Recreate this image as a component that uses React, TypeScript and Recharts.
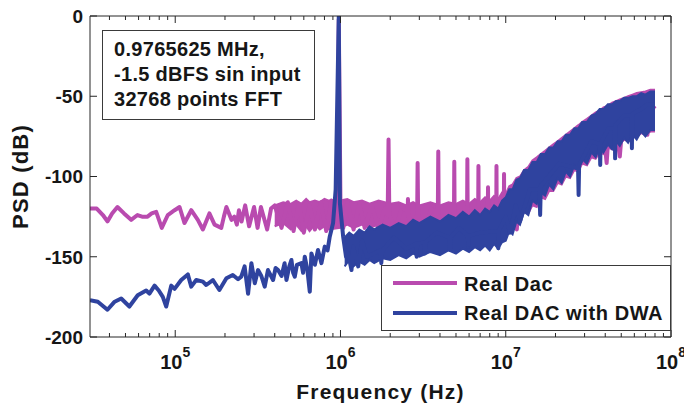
import React from "react";
import { ComposedChart, Line, Area, XAxis, YAxis, Label } from "recharts";

const COLORS = {
  dac: "#B94BAF",
  dwa: "#2F439F",
  axis: "#262626",
  text: "#161616",
};
const FONT = '"Liberation Sans", Arial, Helvetica, sans-serif';

// log axis ticks (majors get a 10^n label, the rest are minor marks)
const FREQ_TICKS = [
  4e4, 5e4, 6e4, 7e4, 8e4, 9e4,
  1e5, 2e5, 3e5, 4e5, 5e5, 6e5, 7e5, 8e5, 9e5,
  1e6, 2e6, 3e6, 4e6, 5e6, 6e6, 7e6, 8e6, 9e6,
  1e7, 2e7, 3e7, 4e7, 5e7, 6e7, 7e7, 8e7, 9e7,
  1e8,
];
const PSD_TICKS = [-200, -150, -100, -50, 0];

const INFO_LINES = ["0.9765625 MHz,", "-1.5 dBFS sin input", "32768 points FFT"];
const SERIES_NAMES = ["Real Dac", "Real DAC with DWA"];

// Real Dac: [freq Hz, PSD dB]
const realDac: [number, number][] = [
  [30500, -120], [33500, -120], [36500, -124], [38900, -128], [41500, -123], [44700, -119],
  [49000, -123], [54100, -127], [59100, -124], [63000, -125], [68000, -125], [72000, -123],
  [76700, -122], [82900, -132], [90200, -124], [99100, -121], [106200, -119], [113800, -129],
  [125000, -121], [137000, -127], [147000, -133], [161000, -123], [173000, -130], [190000, -132],
  [197000, -125], [204000, -119], [219000, -127], [228000, -125], [236000, -130], [243000, -121],
  [252000, -128], [265000, -118], [280000, -131], [300000, -119], [315000, -132], [330000, -119],
  [360000, -133], [380000, -120], [400000, -118], [440000, -132], [480000, -116], [520000, -134],
  [560000, -117], [600000, -135], [650000, -118], [700000, -133], [760000, -116], [820000, -134],
  [880000, -115], [930000, -128], [955000, -118], [976562, -2], [1000000, -118], [1040000, -132],
  [1100000, -116], [1200000, -133], [1300000, -117], [1400000, -132], [1550000, -118], [1700000, -133],
  [1850000, -120], [1930000, -124], [1953125, -77], [1975000, -124], [2150000, -133], [2350000, -119],
  [2550000, -122], [2560000, -114], [2580000, -125], [2750000, -132], [2910000, -124], [2929688, -91.6],
  [2950000, -124], [3200000, -133], [3550000, -120], [3880000, -125], [3906250, -84.5], [3930000, -125],
  [4300000, -132], [4860000, -124], [4882813, -90.8], [4905000, -124], [5300000, -131], [5835000, -123],
  [5859375, -89.3], [5885000, -123], [6300000, -130], [6810000, -123], [6835938, -93.5], [6860000, -123],
  [7300000, -129], [7790000, -122], [7812500, -106.7], [7835000, -122], [8300000, -127], [8765000, -121],
  [8789063, -93.5], [8815000, -121], [9300000, -125], [9740000, -119], [9765625, -98.4], [9790000, -119],
  [10500000, -118], [11400000, -124], [11670000, -133], [11900000, -118], [13500000, -108], [15500000, -103],
  [18000000, -92], [21000000, -88], [25000000, -84], [30000000, -77], [35000000, -70], [39000000, -72],
  [40800000, -91.6], [42000000, -72], [46000000, -66], [49000000, -87.6], [51000000, -66], [58000000, -60],
  [66000000, -58], [72000000, -74], [74000000, -60], [80000000, -56],
];

// Real Dac dense noise band: [freq Hz, low dB, high dB]
const realDacBand: [number, number, number][] = [
  [400000, -131, -118], [450000, -129, -116], [500000, -133, -117], [540000, -130, -115],
  [580000, -134, -117], [620000, -131, -114], [650000, -134, -116], [700000, -130, -115],
  [750000, -133, -116], [800000, -131, -114], [850000, -133, -115], [1000000, -132, -115],
  [1100000, -130, -114], [1200000, -132, -116], [1350000, -130, -115], [1500000, -132, -117],
  [1700000, -130, -115], [2000000, -132, -117], [2250000, -130, -116], [2500000, -132, -118],
  [2750000, -130, -116], [3000000, -132, -118], [3500000, -130, -116], [4000000, -131, -118],
  [4500000, -129, -116], [5000000, -131, -117], [5500000, -129, -115], [6000000, -130, -117],
  [6500000, -128, -114], [7000000, -129, -116], [7500000, -127, -113], [8000000, -128, -115],
  [8500000, -126, -112], [9000000, -127, -114], [9500000, -126, -110], [10000000, -127, -111],
  [10500000, -126, -106], [11000000, -128, -105], [11600000, -125, -101], [12200000, -127, -100],
  [12900000, -122, -96], [13700000, -123, -94], [14500000, -118, -90], [15400000, -119, -88],
  [16300000, -113, -86], [17300000, -114, -84], [18300000, -109, -82], [19400000, -109, -80],
  [20600000, -104, -78], [21800000, -105, -76], [23100000, -100, -74], [24500000, -101, -72],
  [26000000, -96, -70], [27500000, -97, -68], [29000000, -92, -66], [31000000, -93, -64],
  [33000000, -88, -62], [35000000, -89, -60], [37000000, -85, -59], [39000000, -86, -57],
  [41500000, -82, -56], [44000000, -83, -54], [46500000, -79, -53], [49000000, -80, -52],
  [52000000, -77, -51], [55000000, -78, -50], [58500000, -74, -49], [62000000, -75, -48],
  [66000000, -73, -47.5], [70000000, -74, -47], [75000000, -72, -46], [80000000, -72, -46],
];

// Real DAC with DWA: [freq Hz, PSD dB]
const realDacDwa: [number, number][] = [
  [30500, -177], [34000, -178], [38900, -183], [43000, -178], [47100, -176], [52800, -181],
  [59300, -174], [66700, -171], [69800, -173], [75000, -168], [79500, -171], [84100, -175],
  [88200, -181], [94600, -168], [99100, -170], [108700, -164.5], [119200, -161], [125000, -168.6],
  [134000, -164.5], [147000, -165.5], [154000, -167.6], [169000, -164.5], [185000, -170.7], [204000, -163.4],
  [223000, -161.4], [240000, -164], [251000, -162.4], [263000, -156], [276000, -173], [289000, -154],
  [303000, -166.5], [317000, -158.3], [332000, -162], [348000, -168.6], [364000, -158.3], [391000, -164.5],
  [405000, -157], [419000, -158.3], [440000, -162], [459000, -154], [471000, -164.5], [490000, -156],
  [505000, -152], [517000, -160], [529000, -162.4], [545000, -155], [580000, -154], [594000, -160],
  [608000, -150], [630000, -158], [652000, -171.8], [667000, -147.9], [700000, -155], [731000, -145.8],
  [767000, -154], [803000, -143.7], [835000, -146], [861000, -137.5], [902000, -129], [935000, -108],
  [976562, 0], [992000, -116.7], [1038000, -137.5], [1080000, -150], [1112000, -148], [1166000, -158.3],
  [1194000, -143.7], [1250000, -152], [1280000, -156], [1350000, -140], [1450000, -150], [1745000, -146],
  [1766000, -154], [1790000, -146], [2100000, -138], [2500000, -145], [2870000, -142], [2890000, -150],
  [2910000, -142], [3220000, -141], [3240000, -148], [3260000, -141], [3800000, -135], [4570000, -138],
  [4600000, -145.8], [4630000, -138], [5200000, -132], [5900000, -137], [5930000, -143.7], [5960000, -137],
  [7000000, -135], [8980000, -134], [9020000, -144.7], [9060000, -134], [10000000, -125], [10630000, -135],
  [11500000, -118], [12200000, -128], [14000000, -108], [16000000, -108], [16150000, -124], [16300000, -106],
  [21000000, -92], [27400000, -95], [27600000, -111.5], [27800000, -93], [33000000, -78], [37100000, -80],
  [37300000, -92.8], [37500000, -79], [42000000, -70], [45700000, -70], [45900000, -88.7], [46100000, -68],
  [52000000, -62], [57700000, -62], [58000000, -82.4], [58300000, -61], [66000000, -58], [72000000, -55],
  [80000000, -55],
];

const realDacDwaBand: [number, number, number][] = [
  [1060000, -156, -138], [1130000, -152, -135], [1200000, -156, -137], [1300000, -153, -133],
  [1400000, -155, -135], [1500000, -152, -131], [1600000, -154, -133], [1800000, -151, -130],
  [2000000, -152, -132], [2250000, -149, -129], [2500000, -151, -131], [2750000, -148, -127],
  [3000000, -150, -129], [3500000, -147, -125], [4000000, -149, -128], [4500000, -146, -124],
  [5000000, -148, -126], [5500000, -145, -122], [6000000, -147, -125], [6500000, -144, -121],
  [7000000, -146, -124], [7500000, -143, -120], [8000000, -146, -122], [8500000, -142, -118],
  [9000000, -145, -120], [9500000, -141, -115], [10000000, -140, -113], [10500000, -134, -108],
  [11000000, -136, -108], [11600000, -128, -102], [12200000, -130, -101], [12900000, -122, -96],
  [13700000, -124, -96], [14500000, -115, -91], [15400000, -117, -91], [16300000, -110, -86],
  [17300000, -112, -86], [18300000, -105, -82], [19400000, -108, -82], [20600000, -101, -78],
  [21800000, -104, -78], [23100000, -97, -74], [24500000, -100, -74], [26000000, -93, -70],
  [27500000, -96, -70], [29000000, -89, -66], [31000000, -92, -66], [33000000, -85, -62],
  [35000000, -88, -61], [37000000, -82, -58], [39000000, -85, -58], [41500000, -80, -55],
  [44000000, -83, -55], [46500000, -78, -53], [49000000, -81, -53], [52000000, -76, -51],
  [55000000, -79, -51], [58500000, -74, -50], [62000000, -77, -50], [66000000, -72, -48],
  [70000000, -75, -49], [75000000, -71, -47], [80000000, -71, -47],
];

const toLine = (pts: [number, number][]) => pts.map(([f, psd]) => ({ f, psd }));
const toBand = (pts: [number, number, number][]) => pts.map(([f, lo, hi]) => ({ f, range: [lo, hi] }));

function isDecade(v: number) {
  const l = Math.log10(v);
  return Math.abs(l - Math.round(l)) < 1e-6;
}

function FreqTick(props: any) {
  const { x, y, payload, top } = props;
  const v = payload.value;
  const major = isDecade(v);
  const len = major ? 7 : 4;
  const dir = top ? 1 : -1;
  return (
    <g>
      <line x1={x} x2={x} y1={y} y2={y + dir * len} stroke={COLORS.axis} strokeWidth={1} />
      {!top && major && (
        <text x={x} y={y + 32} textAnchor="middle" fontFamily={FONT} fontWeight="bold" fontSize={20} fill={COLORS.text}>
          <tspan>10</tspan>
          <tspan dy={-12} fontSize={14}>{Math.round(Math.log10(v))}</tspan>
        </text>
      )}
    </g>
  );
}

function PsdTick(props: any) {
  const { x, y, payload, right } = props;
  const dir = right ? -1 : 1;
  return (
    <g>
      <line x1={x} x2={x + dir * 7} y1={y} y2={y} stroke={COLORS.axis} strokeWidth={1} />
      {!right && (
        <text x={x - 7} y={y} dy="0.36em" textAnchor="end" fontFamily={FONT} fontWeight="bold" fontSize={19} fill={COLORS.text}>
          {payload.value}
        </text>
      )}
    </g>
  );
}

export default function App() {
  const dacLine = React.useMemo(() => toLine(realDac), []);
  const dwaLine = React.useMemo(() => toLine(realDacDwa), []);
  const dacBand = React.useMemo(() => toBand(realDacBand), []);
  const dwaBand = React.useMemo(() => toBand(realDacDwaBand), []);

  const axisCommon = {
    stroke: COLORS.axis,
    tickLine: false,
    tickSize: 0,
    tickMargin: 0,
    allowDataOverflow: true,
    interval: 0 as const,
  };

  // explicit stacking: the whole DWA trace sits above the plain DAC trace
  const extra = (z: number) => ({ zIndex: z } as any);

  return (
    <div style={{ position: "absolute", left: 0, top: 0, width: 684, height: 406, background: "#fff" }}>
      <ComposedChart width={684} height={406} margin={{ top: 0, right: 0, bottom: 0, left: 0 }}>
        <XAxis
          {...axisCommon}
          dataKey="f"
          type="number"
          scale="log"
          domain={[30500, 1e8]}
          ticks={FREQ_TICKS}
          height={69}
          tick={<FreqTick />}
        >
          <Label
            content={({ viewBox }: any) => (
              <text
                x={viewBox.x + viewBox.width / 2}
                y={viewBox.y + 62}
                textAnchor="middle"
                fontFamily={FONT}
                fontWeight="bold"
                fontSize={21}
                letterSpacing={1.2}
                fill={COLORS.text}
              >
                Frequency (Hz)
              </text>
            )}
          />
        </XAxis>
        <XAxis
          {...axisCommon}
          xAxisId="top"
          orientation="top"
          dataKey="f"
          type="number"
          scale="log"
          domain={[30500, 1e8]}
          ticks={FREQ_TICKS}
          height={16}
          tick={<FreqTick top />}
        />
        <YAxis
          {...axisCommon}
          type="number"
          domain={[-200, 0]}
          ticks={PSD_TICKS}
          width={90}
          tick={<PsdTick />}
        >
          <Label
            content={({ viewBox }: any) => {
              const cx = viewBox.x + 20;
              const cy = viewBox.y + viewBox.height / 2;
              return (
                <text
                  x={cx}
                  y={cy}
                  transform={`rotate(-90 ${cx} ${cy})`}
                  textAnchor="middle"
                  dominantBaseline="central"
                  fontFamily={FONT}
                  fontWeight="bold"
                  fontSize={22}
                  letterSpacing={1.2}
                  fill={COLORS.text}
                >
                  PSD (dB)
                </text>
              );
            }}
          />
        </YAxis>
        <YAxis
          {...axisCommon}
          yAxisId="right"
          orientation="right"
          type="number"
          domain={[-200, 0]}
          ticks={PSD_TICKS}
          width={13}
          tick={<PsdTick right />}
        />

        <Area {...extra(401)} data={dacBand} dataKey="range" type="linear" stroke={COLORS.dac} strokeWidth={2} fill={COLORS.dac} fillOpacity={1} isAnimationActive={false} />
        <Line {...extra(402)} data={dacLine} dataKey="psd" type="linear" stroke={COLORS.dac} strokeWidth={4} strokeLinejoin="round" dot={false} isAnimationActive={false} />
        <Area {...extra(403)} data={dwaBand} dataKey="range" type="linear" stroke={COLORS.dwa} strokeWidth={2} fill={COLORS.dwa} fillOpacity={1} isAnimationActive={false} />
        <Line {...extra(404)} data={dwaLine} dataKey="psd" type="linear" stroke={COLORS.dwa} strokeWidth={4} strokeLinejoin="round" dot={false} isAnimationActive={false} />
      </ComposedChart>

      <div
        style={{
          position: "absolute",
          left: 102,
          top: 30,
          width: 213,
          height: 90,
          border: "1px solid #3a3a3a",
          background: "#fff",
          padding: "6px 0 0 11px",
          boxSizing: "border-box",
          fontFamily: FONT,
          fontWeight: "bold",
          fontSize: 20,
          lineHeight: "25px",
          letterSpacing: 0.3,
          color: COLORS.text,
          whiteSpace: "nowrap",
        }}
      >
        {INFO_LINES.map((t) => (
          <div key={t}>{t}</div>
        ))}
      </div>

      <svg style={{ position: "absolute", left: 0, top: 0 }} width={684} height={406}>
        <rect x={381.5} y={265.5} width={289} height={65} fill="#fff" stroke="#3a3a3a" strokeWidth={1} />
        {SERIES_NAMES.map((name, i) => (
          <g key={name}>
            <line x1={393} x2={457} y1={283 + i * 30} y2={283 + i * 30} stroke={i === 0 ? COLORS.dac : COLORS.dwa} strokeWidth={4} />
            <text x={464} y={290.5 + i * 29.5} fontFamily={FONT} fontWeight="bold" fontSize={20} letterSpacing={0.6} fill={COLORS.text}>
              {name}
            </text>
          </g>
        ))}
      </svg>
    </div>
  );
}
